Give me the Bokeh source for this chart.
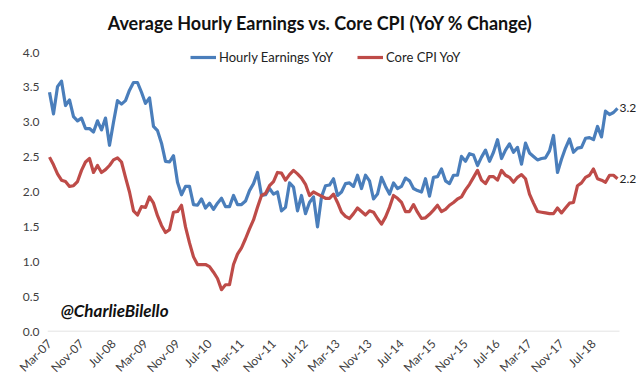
import math
from bokeh.plotting import figure
from bokeh.models import (ColumnDataSource, FixedTicker, Legend, LegendItem, Label,
                          NumeralTickFormatter, Range1d)
from bokeh.embed import file_html
from bokeh.resources import INLINE

# Monthly YoY % change, Mar-07 .. Jan-19
hourly_earnings = [
    3.43, 3.12, 3.51, 3.59, 3.24, 3.32, 3.08, 3.02, 3.06, 2.91, 2.91, 2.86,
    3.02, 2.89, 3.06, 2.67, 3.00, 3.31, 3.26, 3.31, 3.46, 3.57, 3.57, 3.43,
    3.27, 3.35, 2.94, 2.88, 2.70, 2.44, 2.43, 2.52, 2.14, 1.96, 2.08, 2.08,
    1.82, 1.81, 1.90, 1.77, 1.84, 1.75, 1.84, 1.91, 1.79, 1.79, 1.95, 1.82,
    1.82, 1.87, 2.02, 2.12, 2.28, 1.95, 1.96, 2.05, 1.97, 2.00, 1.73, 1.78,
    2.13, 2.07, 1.73, 1.95, 1.69, 1.85, 1.93, 1.50, 1.93, 2.09, 2.10, 2.19,
    1.95, 2.00, 2.12, 2.13, 2.08, 2.24, 2.05, 2.24, 2.16, 1.90, 1.97, 2.21,
    2.08, 1.97, 2.13, 2.05, 2.08, 2.20, 2.16, 2.05, 2.02, 2.00, 2.19, 1.94,
    2.21, 2.22, 2.33, 2.16, 2.12, 2.24, 2.24, 2.51, 2.44, 2.55, 2.53, 2.38,
    2.50, 2.60, 2.44, 2.57, 2.75, 2.48, 2.60, 2.69, 2.57, 2.64, 2.40, 2.70,
    2.56, 2.51, 2.46, 2.48, 2.49, 2.59, 2.81, 2.28, 2.47, 2.63, 2.76, 2.57,
    2.63, 2.64, 2.77, 2.78, 2.75, 2.94, 2.79, 3.16, 3.11, 3.14, 3.20,
]
core_cpi = [
    2.50, 2.39, 2.26, 2.17, 2.15, 2.08, 2.09, 2.15, 2.31, 2.43, 2.48, 2.28,
    2.38, 2.28, 2.32, 2.38, 2.46, 2.49, 2.43, 2.21, 2.00, 1.73, 1.67, 1.79,
    1.78, 1.93, 1.84, 1.66, 1.52, 1.42, 1.46, 1.71, 1.72, 1.81, 1.50, 1.27,
    1.07, 0.96, 0.96, 0.96, 0.93, 0.85, 0.76, 0.60, 0.67, 0.67, 0.96, 1.11,
    1.20, 1.33, 1.47, 1.60, 1.78, 1.95, 1.98, 2.09, 2.15, 2.28, 2.27, 2.17,
    2.25, 2.31, 2.26, 2.20, 2.11, 1.95, 2.00, 1.97, 1.94, 1.91, 1.91, 1.97,
    1.85, 1.71, 1.65, 1.62, 1.69, 1.77, 1.72, 1.67, 1.73, 1.71, 1.62, 1.54,
    1.64, 1.78, 1.95, 1.91, 1.85, 1.72, 1.72, 1.82, 1.71, 1.62, 1.63, 1.68,
    1.74, 1.81, 1.72, 1.75, 1.81, 1.85, 1.90, 1.93, 2.03, 2.11, 2.21, 2.31,
    2.17, 2.12, 2.22, 2.22, 2.17, 2.31, 2.24, 2.21, 2.14, 2.21, 2.25, 2.19,
    1.97, 1.84, 1.72, 1.71, 1.70, 1.69, 1.69, 1.77, 1.70, 1.77, 1.84, 1.85,
    2.09, 2.13, 2.21, 2.24, 2.33, 2.19, 2.17, 2.14, 2.24, 2.24, 2.19,
]
tick_labels = ["Mar-07", "Nov-07", "Jul-08", "Mar-09", "Nov-09", "Jul-10",
               "Mar-11", "Nov-11", "Jul-12", "Mar-13", "Nov-13", "Jul-14",
               "Mar-15", "Nov-15", "Jul-16", "Mar-17", "Nov-17", "Jul-18"]
y_ticks = [0.0, 0.5, 1.0, 1.5, 2.0, 2.5, 3.0, 3.5, 4.0]
title_text = "Average Hourly Earnings vs. Core CPI (YoY % Change)"
series_names = ["Hourly Earnings YoY", "Core CPI YoY"]
watermark = "@CharlieBilello"

n = len(hourly_earnings)
month_idx = list(range(n))
tick_pos = [i * 8 for i in range(len(tick_labels))]

BLUE = "#4A7EBB"
RED = "#BE4B48"
FONT = "Lato"

W, H = 640, 383
FRAME_L, FRAME_B = 47, 331          # frame left / bottom (px)
PX_PER_MONTH = 4.0
PX_PER_UNIT = 69.75                 # px per 1.0 on y
x_end = -0.5 + (W - FRAME_L) / PX_PER_MONTH
y_end = FRAME_B / PX_PER_UNIT

src = ColumnDataSource(dict(x=month_idx, he=hourly_earnings, cpi=core_cpi))

p = figure(width=W, height=H, output_backend="svg", toolbar_location=None,
           x_range=Range1d(-0.5, x_end), y_range=Range1d(0, y_end),
           min_border_left=FRAME_L, min_border_right=0, min_border_top=0,
           min_border_bottom=H - FRAME_B, outline_line_color=None)
p.background_fill_color = "white"
p.border_fill_color = "white"
p.xgrid.visible = False
p.ygrid.visible = False

# category-axis baseline spanning the data categories only
p.segment(x0=[-0.5], y0=[0], x1=[n - 0.5], y1=[0], line_color="#D9D9D9", line_width=1.5)

r1 = p.line("x", "he", source=src, line_color=BLUE, line_width=3.2, line_join="round")
r2 = p.line("x", "cpi", source=src, line_color=RED, line_width=3.2, line_join="round")

# axes
p.xaxis.ticker = FixedTicker(ticks=tick_pos)
p.xaxis.major_label_overrides = {t: l for t, l in zip(tick_pos, tick_labels)}
p.xaxis.major_label_orientation = math.pi / 4
p.xaxis.major_tick_line_color = None
p.xaxis.minor_tick_line_color = None
p.xaxis.axis_line_color = None
p.xaxis.major_label_text_font = FONT
p.xaxis.major_label_text_font_size = "12px"
p.xaxis.major_label_text_color = "#404040"
p.xaxis.major_label_standoff = 4

p.yaxis.ticker = FixedTicker(ticks=y_ticks)
p.yaxis.formatter = NumeralTickFormatter(format="0.0")
p.yaxis.axis_line_color = None
p.yaxis.major_tick_line_color = None
p.yaxis.minor_tick_line_color = None
p.yaxis.major_label_text_font = FONT
p.yaxis.major_label_text_font_size = "12px"
p.yaxis.major_label_text_color = "#404040"
p.yaxis.major_label_standoff = 2

# legend
legend = Legend(items=[LegendItem(label=series_names[0], renderers=[r1]),
                       LegendItem(label=series_names[1], renderers=[r2])],
                orientation="horizontal", location=(143, 265),
                glyph_width=26, glyph_height=18, label_standoff=3, spacing=24,
                padding=0, margin=0, border_line_alpha=0, background_fill_alpha=0,
                label_text_font=FONT, label_text_font_size="13px",
                label_text_color="#222222")
p.add_layout(legend)

# title
p.add_layout(Label(x=(320 - FRAME_L) / PX_PER_MONTH - 0.5, y=(FRAME_B - 22) / PX_PER_UNIT,
                   text=title_text, text_align="center",
                   text_baseline="middle", text_font=FONT, text_font_style="bold",
                   text_font_size="18px", text_color="#111111"))

# watermark
p.add_layout(Label(x=2.8, y=0.30, text=watermark, text_align="left",
                   text_baseline="middle", text_font=FONT,
                   text_font_style="bold italic", text_font_size="17px",
                   text_color="#111111"))

# end-value labels
for vals in (hourly_earnings, core_cpi):
    p.add_layout(Label(x=n - 1, y=vals[-1], x_offset=2, text=f"{vals[-1]:.1f}",
                       text_align="left", text_baseline="middle", text_font=FONT,
                       text_font_size="12px", text_color="#222222"))

open("out.html", "w").write(file_html(p, INLINE))
